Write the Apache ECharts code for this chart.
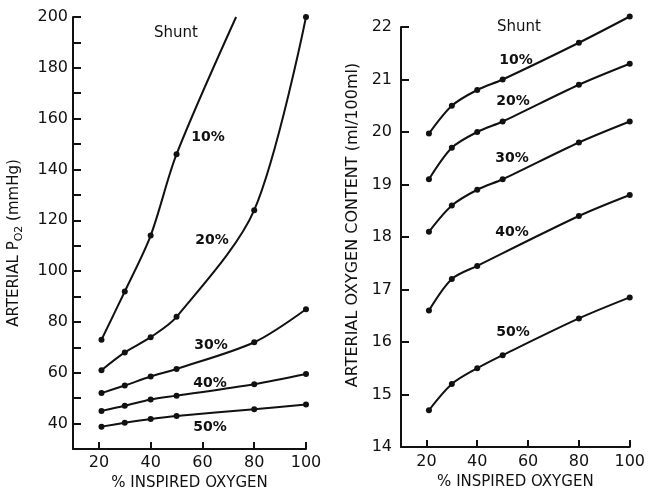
<!DOCTYPE html>
<html>
<head>
<meta charset="utf-8">
<script src="https://cdn.jsdelivr.net/npm/echarts@6/dist/echarts.min.js"></script>
<style>
  html, body { margin: 0; padding: 0; background: #fff; }
  #chart { width: 648px; height: 496px; }
</style>
</head>
<body>
<div id="chart"></div>
<script>
// inspired oxygen (%) at which points were measured
const inspiredO2 = [21, 30, 40, 50, 80, 100];
const xTicks = [20, 40, 60, 80, 100];

// left panel: arterial PO2 (mmHg) per shunt
const po2Shunt10 = [73, 92, 114, 146];
const po2Shunt10End = [73, 200]; // where the 10% curve leaves the top of the plot
const po2Shunt20 = [61, 68, 74, 82, 124, 200];
const po2Shunt30 = [52, 55, 58.5, 61.5, 72, 85];
const po2Shunt40 = [45, 47, 49.5, 51, 55.5, 59.5];
const po2Shunt50 = [38.8, 40.3, 41.8, 43, 45.6, 47.5];

// right panel: arterial oxygen content (ml/100ml) per shunt
const contShunt10 = [19.97, 20.5, 20.8, 21.0, 21.7, 22.2];
const contShunt20 = [19.1, 19.7, 20.0, 20.2, 20.9, 21.3];
const contShunt30 = [18.1, 18.6, 18.9, 19.1, 19.8, 20.2];
const contShunt40 = [16.6, 17.2, 17.45, null, 18.4, 18.8];
const contShunt50 = [14.7, 15.2, 15.5, 15.75, 16.45, 16.85];

const shuntNames = ["10%", "20%", "30%", "40%", "50%"];

const FONT = "DejaVu Sans";
const INK = "#111";

// pair up x and y, skip missing points
function pairs(ys) {
  const out = [];
  ys.forEach((y, i) => {
    if (y !== null) out.push([inspiredO2[i], y]);
  });
  return out;
}

function curve(data, axisIdx) {
  return {
    type: "line",
    xAxisIndex: axisIdx,
    yAxisIndex: axisIdx,
    data: data,
    smooth: 0.3,
    clip: false,
    symbol: "circle",
    symbolSize: 6,
    lineStyle: { color: INK, width: 2 },
    itemStyle: { color: INK },
    silent: true,
  };
}

const chart = echarts.init(document.getElementById("chart"));

const xAxisBase = {
  type: "value",
  min: 10,
  max: 100,
  nameLocation: "middle",
  name: "% INSPIRED OXYGEN",
  nameTextStyle: { fontFamily: FONT, fontSize: 15, color: INK },
  axisLine: { show: true, lineStyle: { color: INK, width: 2 } },
  axisTick: { show: true, inside: true, length: 7, customValues: xTicks, lineStyle: { color: INK, width: 2 } },
  axisLabel: { customValues: xTicks, fontFamily: FONT, fontSize: 16, color: INK },
  splitLine: { show: false },
};

// 10% curve on the left also runs up past its last dot
const leftShunt10 = pairs(po2Shunt10);
leftShunt10.push({ value: po2Shunt10End, symbol: "none" });

const labels = [
  // left panel
  ["Shunt", 176, 33, "normal", 15],
  [shuntNames[0], 208, 137, "bold", 14],
  [shuntNames[1], 212, 240, "bold", 14],
  [shuntNames[2], 211, 345, "bold", 14],
  [shuntNames[3], 210, 383, "bold", 14],
  [shuntNames[4], 210, 427, "bold", 14],
  // right panel
  ["Shunt", 519, 27, "normal", 15],
  [shuntNames[0], 516, 60, "bold", 14],
  [shuntNames[1], 513, 101, "bold", 14],
  [shuntNames[2], 512, 158, "bold", 14],
  [shuntNames[3], 512, 232, "bold", 14],
  [shuntNames[4], 513, 332, "bold", 14],
];

const option = {
  backgroundColor: "#fff",
  animation: false,
  grid: [
    { left: 73, right: 342, top: 17, bottom: 43 },
    { left: 401, right: 12, top: 27, bottom: 49 },
  ],
  xAxis: [
    Object.assign({}, xAxisBase, {
      gridIndex: 0,
      nameGap: 27,
      axisLabel: Object.assign({}, xAxisBase.axisLabel, { margin: 6 }),
    }),
    Object.assign({}, xAxisBase, {
      gridIndex: 1,
      nameGap: 28,
      axisLabel: Object.assign({}, xAxisBase.axisLabel, { margin: 7 }),
    }),
  ],
  yAxis: [
    {
      gridIndex: 0,
      type: "value",
      min: 30,
      max: 200,
      interval: 10,
      name: "ARTERIAL P{s|O2} (mmHg)",
      nameLocation: "middle",
      nameRotate: 90,
      nameGap: 48,
      nameTextStyle: {
        fontFamily: FONT, fontSize: 15, color: INK, lineHeight: 22,
        padding: [0, 20, 0, 0],
        rich: {
          s: { fontFamily: FONT, fontSize: 11, color: INK, lineHeight: 22, verticalAlign: "bottom" },
        },
      },
      axisLine: { show: true, lineStyle: { color: INK, width: 2 } },
      axisTick: { show: true, inside: true, length: 8, lineStyle: { color: INK, width: 2 } },
      axisLabel: {
        fontFamily: FONT, fontSize: 16, color: INK, margin: 5,
        formatter: (v) => (v % 20 === 0 ? String(v) : ""),
      },
      splitLine: { show: false },
    },
    {
      gridIndex: 1,
      type: "value",
      min: 14,
      max: 22,
      interval: 1,
      name: "ARTERIAL OXYGEN CONTENT (ml/100ml)",
      nameLocation: "middle",
      nameRotate: 90,
      nameGap: 40,
      nameTextStyle: { fontFamily: FONT, fontSize: 16, color: INK, padding: [0, 0, 0, 24] },
      axisLine: { show: true, lineStyle: { color: INK, width: 2 } },
      axisTick: { show: true, inside: true, length: 8, lineStyle: { color: INK, width: 2 } },
      axisLabel: { fontFamily: FONT, fontSize: 16, color: INK, margin: 9 },
      splitLine: { show: false },
    },
  ],
  series: [
    curve(leftShunt10, 0),
    curve(pairs(po2Shunt20), 0),
    curve(pairs(po2Shunt30), 0),
    curve(pairs(po2Shunt40), 0),
    curve(pairs(po2Shunt50), 0),
    curve(pairs(contShunt10), 1),
    curve(pairs(contShunt20), 1),
    curve(pairs(contShunt30), 1),
    curve(pairs(contShunt40), 1),
    curve(pairs(contShunt50), 1),
  ],
  graphic: labels.map(([text, x, y, weight, size]) => ({
    type: "text",
    x: x,
    y: y,
    style: {
      text: text,
      fontFamily: FONT,
      fontSize: size,
      fontWeight: weight,
      fill: INK,
      align: "center",
      verticalAlign: "middle",
    },
  })),
};

chart.setOption(option);
</script>
</body>
</html>
